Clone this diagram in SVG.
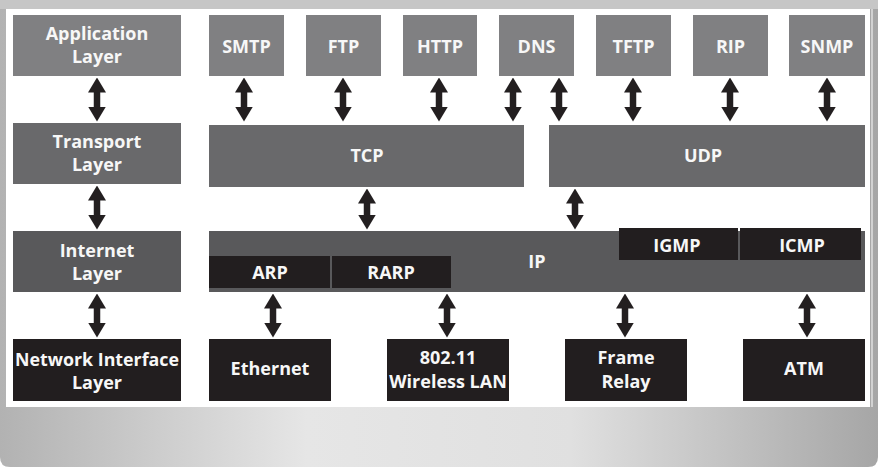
<svg xmlns="http://www.w3.org/2000/svg" width="878" height="467" viewBox="0 0 878 467">
<defs>
<linearGradient id="frame" x1="0" y1="0" x2="1" y2="0">
<stop offset="0" stop-color="#b2b2b2"/>
<stop offset="0.35" stop-color="#e6e6e6"/>
<stop offset="0.65" stop-color="#e0e0e0"/>
<stop offset="1" stop-color="#a6a6a6"/>
</linearGradient>
<marker id="head" markerUnits="userSpaceOnUse" markerWidth="15" markerHeight="19" viewBox="0 0 15 19" refX="0.5" refY="9.5" orient="auto-start-reverse">
<path d="M0,0.5 L15,9.5 L0,18.5 z" fill="#231f20"/>
</marker>
<style>
.app{fill:#808082}
.tr{fill:#69696b}
.net{fill:#59595b}
.blk{fill:#221e1f}
text{font-family:"Open Sans","Noto Sans","DejaVu Sans",sans-serif;font-weight:700;font-size:18px;fill:#f7f7f7;text-anchor:middle}
.arr{stroke:#231f20;stroke-width:6.5;marker-start:url(#head);marker-end:url(#head)}
</style>
</defs>
<rect width="878" height="467" fill="#ffffff"/>
<path d="M0,0 H878 V457 Q878,467 868,467 H10 Q0,467 0,457 Z" fill="url(#frame)"/>
<rect x="0" y="0" width="878" height="9" fill="#c6c6c6"/>
<rect x="871" y="9" width="2" height="398" fill="#d2d2d2"/>
<rect x="6" y="9" width="864" height="398" fill="#ffffff"/>

<g id="application-layer"><rect class="app" x="13" y="15" width="168" height="61"/><text x="97" y="40">Application</text><text x="97" y="63">Layer</text></g>
<g id="transport-layer"><rect class="tr" x="13" y="123" width="168" height="61"/><text x="97" y="148">Transport</text><text x="97" y="171">Layer</text></g>
<g id="internet-layer"><rect class="net" x="13" y="231" width="168" height="61"/><text x="97" y="257">Internet</text><text x="97" y="280">Layer</text></g>
<g id="network-interface-layer"><rect class="blk" x="13" y="339" width="168" height="62"/><text x="97" y="366" textLength="164" lengthAdjust="spacingAndGlyphs">Network Interface</text><text x="97" y="389">Layer</text></g>

<g id="smtp"><rect class="app" x="209" y="15" width="75" height="61"/><text x="246.5" y="53">SMTP</text></g>
<g id="ftp"><rect class="app" x="306" y="15" width="75" height="61"/><text x="343.5" y="53">FTP</text></g>
<g id="http"><rect class="app" x="403" y="15" width="74" height="61"/><text x="440" y="53">HTTP</text></g>
<g id="dns"><rect class="app" x="499" y="15" width="75" height="61"/><text x="536.5" y="53">DNS</text></g>
<g id="tftp"><rect class="app" x="596" y="15" width="75" height="61"/><text x="633.5" y="53">TFTP</text></g>
<g id="rip"><rect class="app" x="693" y="15" width="75" height="61"/><text x="730.5" y="53">RIP</text></g>
<g id="snmp"><rect class="app" x="789" y="15" width="76" height="61"/><text x="827" y="53">SNMP</text></g>

<g id="tcp"><rect class="tr" x="209" y="125" width="315" height="62"/><text x="367" y="162">TCP</text></g>
<g id="udp"><rect class="tr" x="549" y="125" width="316" height="62"/><text x="703" y="162">UDP</text></g>

<g id="ip"><rect class="net" x="209" y="231" width="656" height="61"/><text x="537" y="268">IP</text></g>
<g id="arp"><rect class="blk" x="209" y="256" width="121" height="32"/><text x="270" y="279">ARP</text></g>
<g id="rarp"><rect class="blk" x="332" y="256" width="119" height="32"/><text x="391" y="279">RARP</text></g>
<g id="igmp"><rect class="blk" x="619" y="228" width="119" height="32"/><text x="677" y="252">IGMP</text></g>
<g id="icmp"><rect class="blk" x="740" y="228" width="121" height="32"/><text x="802" y="252">ICMP</text></g>

<g id="ethernet"><rect class="blk" x="209" y="339" width="122" height="62"/><text x="270" y="375">Ethernet</text></g>
<g id="wireless-lan"><rect class="blk" x="387" y="339" width="122" height="62"/><text x="448" y="364">802.11</text><text x="448" y="388">Wireless LAN</text></g>
<g id="frame-relay"><rect class="blk" x="565" y="339" width="122" height="62"/><text x="626" y="364">Frame</text><text x="626" y="388">Relay</text></g>
<g id="atm"><rect class="blk" x="743" y="339" width="122" height="62"/><text x="804" y="375">ATM</text></g>

<g id="connectors">
<line class="arr" x1="97" y1="92" x2="97" y2="107"/>
<line class="arr" x1="244" y1="92" x2="244" y2="107"/>
<line class="arr" x1="343" y1="92" x2="343" y2="107"/>
<line class="arr" x1="439" y1="92" x2="439" y2="107"/>
<line class="arr" x1="513" y1="92" x2="513" y2="107"/>
<line class="arr" x1="559" y1="92" x2="559" y2="107"/>
<line class="arr" x1="633" y1="92" x2="633" y2="107"/>
<line class="arr" x1="730" y1="92" x2="730" y2="107"/>
<line class="arr" x1="827" y1="92" x2="827" y2="107"/>
<line class="arr" x1="97" y1="200" x2="97" y2="215"/>
<line class="arr" x1="367" y1="203" x2="367" y2="215"/>
<line class="arr" x1="575" y1="203" x2="575" y2="215"/>
<line class="arr" x1="97" y1="308" x2="97" y2="323"/>
<line class="arr" x1="273" y1="308" x2="273" y2="323"/>
<line class="arr" x1="447" y1="308" x2="447" y2="323"/>
<line class="arr" x1="625" y1="308" x2="625" y2="323"/>
<line class="arr" x1="807" y1="308" x2="807" y2="323"/>
</g>
</svg>
